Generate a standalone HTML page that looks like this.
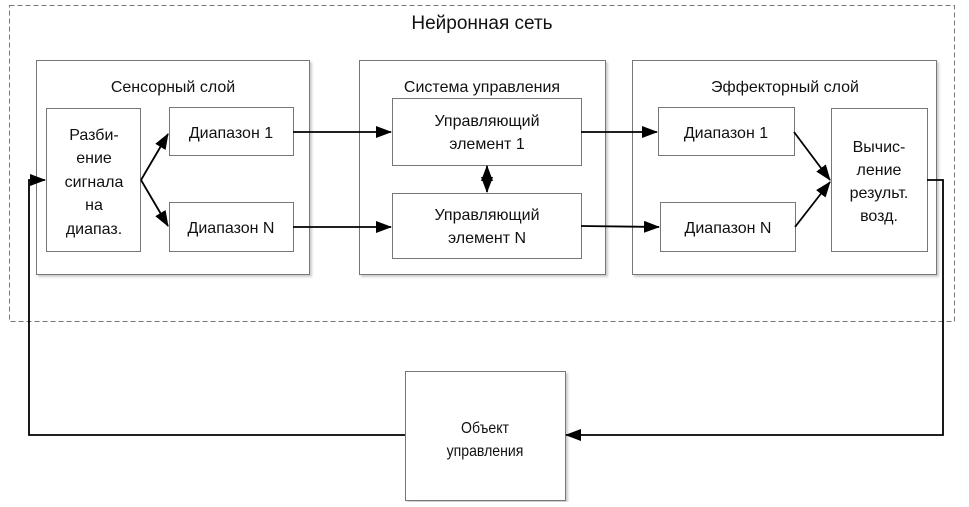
<!DOCTYPE html>
<html><head><meta charset="utf-8"><style>
body{margin:0;background:#fff}
svg text{font-family:"Liberation Sans",sans-serif;font-size:16px;fill:#111;text-anchor:middle}
</style></head><body>
<svg width="969" height="502" viewBox="0 0 969 502" xmlns="http://www.w3.org/2000/svg">
<defs>
<marker id="a" markerWidth="16" markerHeight="12" refX="15" refY="6" orient="auto" markerUnits="userSpaceOnUse"><path d="M0,0 L16,6 L0,12 z" fill="#000"/></marker>
<filter id="s"><feDropShadow dx="2" dy="2" stdDeviation="1" flood-color="#aaa" flood-opacity="0.6"/></filter>
</defs>
<rect x="9.5" y="5.5" width="945" height="316" fill="none" stroke="#777" stroke-dasharray="5,3"/>
<text x="482" y="29" style="font-size:19px">Нейронная сеть</text>
<g fill="#fff" stroke="#777" filter="url(#s)">
<rect x="36.5" y="60.5" width="273" height="214"/>
<rect x="359.5" y="60.5" width="246" height="214"/>
<rect x="632.5" y="60.5" width="304" height="214"/>
<rect x="46.5" y="108.5" width="94" height="143"/>
<rect x="169.5" y="107.5" width="124" height="48"/>
<rect x="169.5" y="202.5" width="124" height="49"/>
<rect x="392.5" y="98.5" width="189" height="67"/>
<rect x="392.5" y="193.5" width="189" height="65"/>
<rect x="658.5" y="107.5" width="136" height="48"/>
<rect x="660.5" y="202.5" width="135" height="49"/>
<rect x="831.5" y="108.5" width="96" height="143"/>
<rect x="405.5" y="371.5" width="160" height="129"/>
</g>
<text x="173" y="92">Сенсорный слой</text>
<text x="482" y="92">Система управления</text>
<text x="785" y="92">Эффекторный слой</text>
<text x="94" y="140">Разби-</text><text x="94" y="163">ение</text><text x="94" y="187">сигнала</text><text x="94" y="210">на</text><text x="94" y="234">диапаз.</text>
<text x="231" y="138">Диапазон 1</text>
<text x="231" y="233">Диапазон N</text>
<text x="487" y="126">Управляющий</text><text x="487" y="149">элемент 1</text>
<text x="487" y="220">Управляющий</text><text x="487" y="243">элемент N</text>
<text x="726" y="138">Диапазон 1</text>
<text x="728" y="233">Диапазон N</text>
<text x="879" y="152">Вычис-</text><text x="879" y="175">ление</text><text x="879" y="198">результ.</text><text x="879" y="221">возд.</text>
<g transform="translate(485,0) scale(0.88,1)"><text x="0" y="433">Объект</text><text x="0" y="456">управления</text></g>
<g stroke="#000" stroke-width="1.8" fill="none">
<line x1="141" y1="180" x2="168" y2="134" marker-end="url(#a)"/>
<line x1="141" y1="180" x2="168" y2="226" marker-end="url(#a)"/>
<line x1="293" y1="132" x2="391" y2="132" marker-end="url(#a)"/>
<line x1="293" y1="227" x2="391" y2="227" marker-end="url(#a)"/>
<line x1="581" y1="132" x2="657" y2="132" marker-end="url(#a)"/>
<line x1="581" y1="226" x2="659" y2="227" marker-end="url(#a)"/>
<line x1="794" y1="132" x2="830" y2="180" marker-end="url(#a)"/>
<line x1="795" y1="227" x2="830" y2="182" marker-end="url(#a)"/>
<line x1="487" y1="178" x2="487" y2="166" marker-end="url(#a)"/>
<line x1="487" y1="180" x2="487" y2="192" marker-end="url(#a)"/>
<polyline points="927,180 943,180 943,435 566,435" marker-end="url(#a)"/>
<polyline points="405,435 29,435 29,180 45,180" marker-end="url(#a)"/>
</g>
</svg>
</body></html>
